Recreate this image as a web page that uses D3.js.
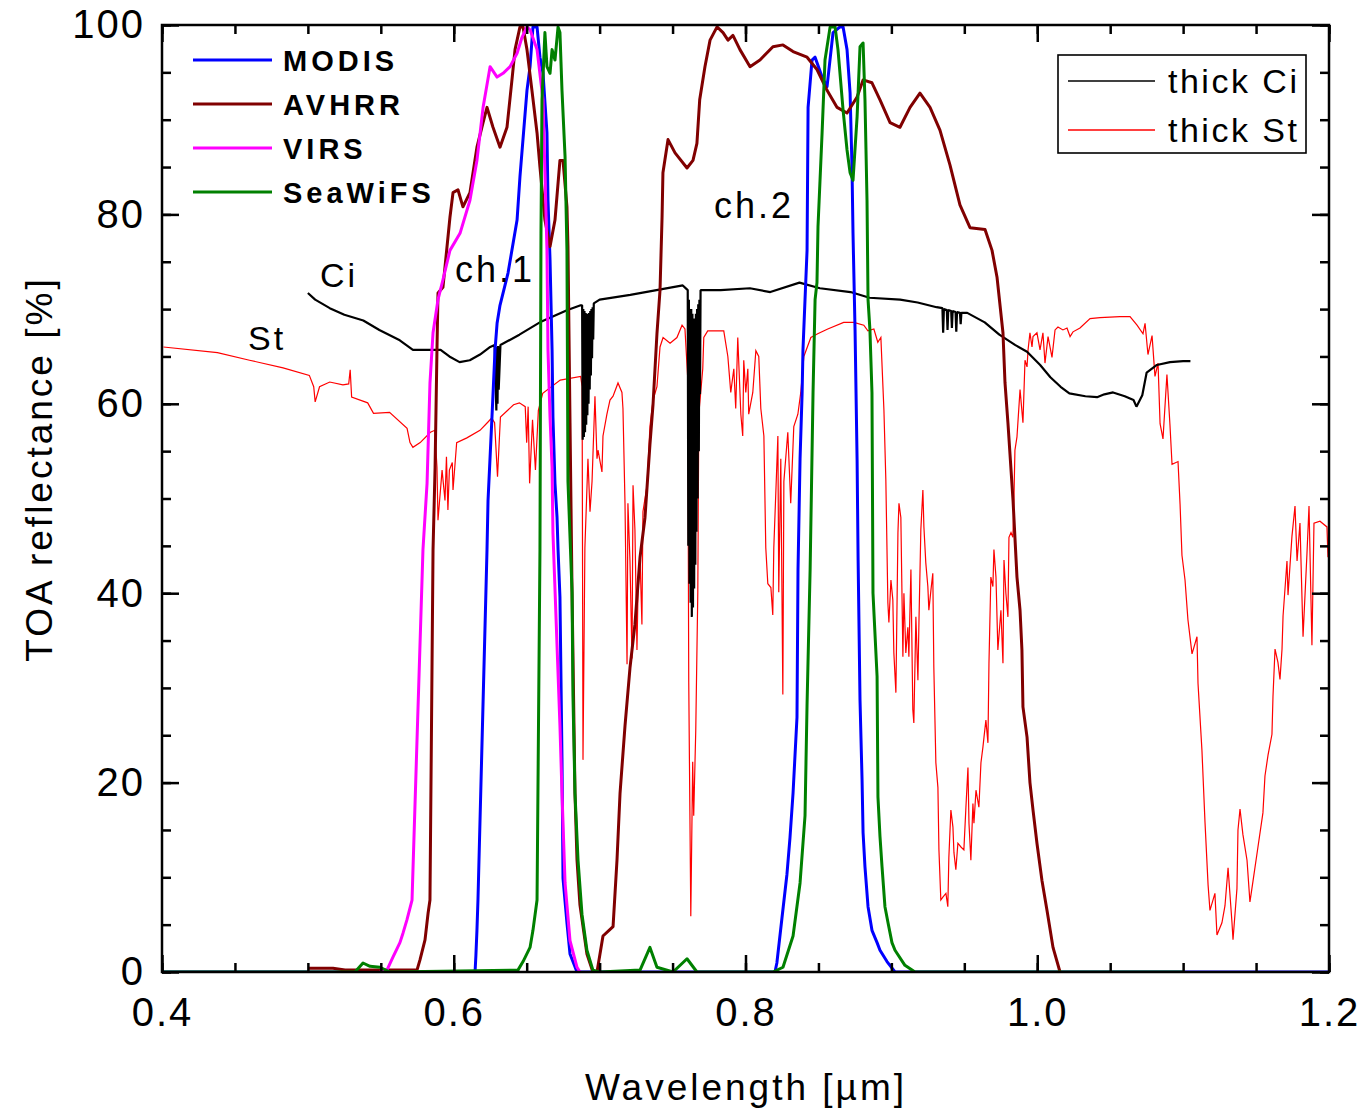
<!DOCTYPE html>
<html><head><meta charset="utf-8">
<script src="https://cdn.jsdelivr.net/npm/d3@7"></script>
<style>
html,body{margin:0;padding:0;background:#fff;}
svg{display:block;font-family:"Liberation Sans",Arial,sans-serif;}
</style></head>
<body>
<svg id="chart" width="1359" height="1112"></svg>
<script>
// ---- tick labels ----
const xTickLabels = ["0.4","0.6","0.8","1.0","1.2"];
const yTickLabels = ["0","20","40","60","80","100"];

// ---- thick Ci (black), [wavelength µm, reflectance %] ----
const thickCi = [[0.500,71.7],[0.505,71.0],[0.515,70.1],[0.525,69.4],[0.538,68.8],[0.549,67.8],[0.563,66.7],[0.572,65.7],[0.582,65.7],[0.591,65.7],[0.597,65.0],[0.604,64.4],[0.611,64.6],[0.618,65.2],[0.625,66.0],[0.628,66.2],[0.6292,59.3],[0.6296,66.0],[0.6300,60.0],[0.6304,66.1],[0.6308,61.5],[0.632,66.2],[0.645,67.3],[0.659,68.6],[0.678,69.9],[0.687,70.4],
[0.6880,70.4],[0.6884,56.2],[0.6888,70.0],[0.6892,56.5],[0.6896,69.8],[0.6900,57.0],[0.6904,69.6],[0.6908,57.8],[0.6912,69.5],[0.6916,58.8],[0.6920,69.5],[0.6924,60.0],[0.6928,69.6],[0.6932,61.5],[0.6936,69.8],[0.6940,63.0],[0.6944,70.0],[0.6948,64.8],[0.6952,70.2],[0.6956,66.8],[0.6960,70.6],
[0.700,71.0],[0.721,71.5],[0.739,72.0],[0.757,72.5],
[0.7604,72.0],[0.7608,45.0],[0.7612,71.0],[0.7616,41.0],[0.7620,70.0],[0.7624,39.0],[0.7628,70.0],[0.7632,37.5],[0.7636,69.5],[0.7640,38.5],[0.7644,69.0],[0.7648,40.5],[0.7652,69.0],[0.7656,43.0],[0.7660,69.5],[0.7664,46.5],[0.7668,70.0],[0.7672,50.0],[0.7676,70.5],[0.7680,55.0],[0.7684,71.0],[0.7688,61.0],[0.7692,72.0],
[0.783,72.0],[0.803,72.2],[0.817,71.8],[0.837,72.8],[0.851,72.2],[0.872,71.8],[0.885,71.2],[0.906,71.0],[0.918,70.7],[0.931,70.2],[0.935,70.1],[0.9355,67.5],[0.936,70.0],[0.938,69.9],[0.9385,67.8],[0.939,69.9],[0.941,69.8],[0.9415,68.0],[0.942,69.8],[0.944,69.7],[0.9445,67.6],[0.945,69.7],[0.947,69.6],[0.9475,68.4],[0.948,69.6],[0.952,69.6],[0.964,68.6],[0.974,67.3],[0.985,66.2],[0.993,65.5],[1.002,64.1],[1.009,62.8],[1.016,61.8],[1.022,61.1],[1.033,60.8],[1.041,60.7],[1.046,61.0],[1.052,61.2],[1.060,60.8],[1.066,60.4],[1.068,59.7],[1.072,60.9],[1.075,63.3],[1.082,64.1],[1.091,64.4],[1.100,64.5],[1.105,64.5]];

// ---- thick St (red) ----
const thickSt = [[0.401,66.0],[0.438,65.4],[0.460,64.6],[0.483,63.8],[0.501,63.0],[0.504,61.8],[0.505,60.2],[0.508,61.8],[0.515,62.3],[0.524,62.0],[0.528,62.1],[0.529,63.6],[0.530,60.7],[0.541,60.1],[0.545,59.0],[0.556,59.1],[0.568,57.4],[0.570,55.9],[0.572,55.4],[0.577,55.9],[0.584,57.0],[0.587,57.2],[0.5885,53.3],[0.5892,47.7],[0.592,53.0],[0.594,49.8],[0.595,54.4],[0.596,48.8],[0.597,53.0],[0.599,53.8],[0.5995,50.9],[0.602,55.9],[0.609,56.4],[0.618,57.2],[0.623,58.0],[0.626,58.5],[0.628,58.0],[0.630,52.3],[0.632,58.6],[0.641,59.9],[0.645,60.1],[0.649,59.7],[0.650,55.9],[0.651,59.7],[0.652,51.6],[0.654,58.3],[0.656,53.0],[0.658,59.3],[0.661,61.1],[0.673,62.5],[0.687,62.9],[0.688,61.8],[0.6886,22.4],[0.6899,44.8],[0.6920,54.2],[0.6934,48.6],[0.6948,51.8],[0.6968,60.8],[0.6982,54.2],[0.6989,55.1],[0.7016,52.8],[0.7023,56.6],[0.7050,58.9],[0.7071,60.4],[0.7092,60.8],[0.7126,62.2],[0.7153,61.2],[0.7160,59.5],[0.7174,49.5],[0.7188,32.5],[0.7194,49.5],[0.7208,43.4],[0.7222,33.1],[0.7229,51.4],[0.7242,46.7],[0.7256,34.0],[0.7263,40.1],[0.7277,43.8],[0.7290,36.7],[0.7297,48.6],[0.7325,51.4],[0.7345,57.6],[0.7366,60.4],[0.7393,61.8],[0.7414,66.0],[0.7435,67.0],[0.7483,66.4],[0.7530,67.0],[0.7565,68.3],[0.7585,67.9],[0.7604,62.7],[0.7611,30.6],[0.7625,5.9],[0.7638,22.2],[0.7645,16.5],[0.7659,25.5],[0.7673,40.1],[0.7680,58.9],[0.7707,63.7],[0.7714,67.0],[0.7741,67.7],[0.7851,67.7],[0.7879,65.0],[0.7899,61.2],[0.7920,63.7],[0.7933,59.5],[0.7947,67.0],[0.7968,58.9],[0.7981,56.6],[0.7988,64.6],[0.8002,61.2],[0.8016,63.7],[0.8022,58.9],[0.8050,61.2],[0.8071,65.6],[0.8091,65.0],[0.8105,59.5],[0.8126,56.6],[0.8139,44.8],[0.8153,41.0],[0.8174,40.6],[0.8187,37.7],[0.8194,44.8],[0.8222,56.6],[0.8228,40.1],[0.8242,54.2],[0.8256,29.3],[0.8263,51.8],[0.8290,57.0],[0.8310,49.5],[0.8331,57.6],[0.8359,58.9],[0.8379,61.2],[0.8400,65.0],[0.8448,67.0],[0.8495,67.4],[0.8564,67.9],[0.8673,68.6],[0.8742,68.6],[0.8811,68.3],[0.8839,67.7],[0.8880,67.9],[0.8907,66.5],[0.8928,67.0],[0.8949,59.3],[0.8962,52.0],[0.8976,39.0],[0.8983,36.9],[0.8997,41.4],[0.9010,39.3],[0.9017,33.7],[0.9031,29.5],[0.9045,46.4],[0.9052,49.5],[0.9065,48.0],[0.9079,33.3],[0.9086,40.0],[0.9099,33.7],[0.9113,36.4],[0.9120,33.3],[0.9134,42.5],[0.9147,27.7],[0.9154,26.3],[0.9168,37.5],[0.9182,30.8],[0.9189,36.9],[0.9202,46.7],[0.9216,50.9],[0.9223,47.0],[0.9236,43.2],[0.9250,40.7],[0.9257,38.2],[0.9271,40.3],[0.9284,42.1],[0.9291,32.2],[0.9305,22.1],[0.9319,19.5],[0.9326,12.9],[0.9339,7.6],[0.9353,7.9],[0.9374,8.3],[0.9387,6.9],[0.9394,12.1],[0.9408,17.1],[0.9422,15.3],[0.9429,12.6],[0.9442,10.8],[0.9456,13.6],[0.9477,13.2],[0.9497,12.9],[0.9511,17.4],[0.9525,21.6],[0.9532,15.7],[0.9545,11.8],[0.9559,17.8],[0.9566,15.7],[0.9580,19.2],[0.9600,17.4],[0.9614,22.1],[0.9628,23.8],[0.9635,24.8],[0.9648,26.6],[0.9662,24.2],[0.9669,32.6],[0.9682,41.7],[0.9696,40.7],[0.9703,44.6],[0.9717,41.7],[0.9730,34.0],[0.9737,35.4],[0.9751,38.2],[0.9765,32.6],[0.9772,43.5],[0.9785,40.0],[0.9799,37.5],[0.9806,45.9],[0.9820,46.4],[0.9833,45.9],[0.9840,49.8],[0.9847,55.1],[0.9861,56.5],[0.9882,61.5],[0.9902,58.0],[0.9916,64.6],[0.9930,63.9],[0.9937,65.7],[0.9950,67.5],[0.9964,66.0],[0.9971,67.1],[0.9998,67.5],[1.0019,65.7],[1.0039,67.5],[1.0053,64.3],[1.0074,67.1],[1.0101,64.9],[1.0122,67.8],[1.0142,68.1],[1.0176,67.8],[1.0204,68.0],[1.0225,67.1],[1.0245,67.6],[1.0293,68.0],[1.0362,69.0],[1.0430,69.1],[1.0567,69.2],[1.0636,69.2],[1.0684,68.3],[1.0725,67.4],[1.0739,68.5],[1.0759,65.2],[1.0787,67.2],[1.0807,62.9],[1.0828,64.3],[1.0842,57.9],[1.0862,56.3],[1.0889,63.1],[1.0910,57.7],[1.0924,53.6],[1.0965,53.9],[1.0979,49.4],[1.0992,44.0],[1.1013,41.4],[1.1033,37.2],[1.1061,33.6],[1.1095,35.4],[1.1102,30.5],[1.1129,23.4],[1.1150,15.8],[1.1171,9.2],[1.1184,6.5],[1.1218,8.3],[1.1232,3.9],[1.1266,5.2],[1.1287,7.0],[1.1308,11.0],[1.1335,5.2],[1.1342,3.4],[1.1369,8.8],[1.1376,15.0],[1.1390,17.2],[1.1410,14.5],[1.1438,11.8],[1.1458,7.4],[1.1479,9.6],[1.1513,13.2],[1.1547,16.8],[1.1561,20.7],[1.1582,22.9],[1.1609,25.1],[1.1616,29.1],[1.1630,34.1],[1.1650,32.7],[1.1664,30.9],[1.1678,34.1],[1.1685,37.6],[1.1712,43.4],[1.1719,39.8],[1.1746,46.0],[1.1767,49.2],[1.1781,43.4],[1.1801,47.4],[1.1822,35.4],[1.1849,44.2],[1.1863,49.2],[1.1883,34.5],[1.1897,47.4],[1.1938,47.6],[1.1986,47.0],[1.1993,43.8]];

// ---- MODIS (blue) ----
const modis = [[0.400,0],[0.6146,0],[0.6152,1.8],[0.6159,4.4],[0.6166,7.6],[0.6228,44.6],[0.6235,49.8],[0.6262,58.6],[0.6283,65.7],[0.6297,68.5],[0.6317,70.4],[0.6372,73.8],[0.6434,79.4],[0.6454,84.0],[0.6502,93.1],[0.6523,95.6],[0.6543,99.8],[0.6571,99.8],[0.6591,96.6],[0.6612,94.9],[0.6639,88.6],[0.6646,81.5],[0.6660,75.2],[0.6674,65.7],[0.6680,58.6],[0.6694,51.6],[0.6708,48.0],[0.6715,44.6],[0.6728,39.6],[0.6742,22.6],[0.6749,9.9],[0.6776,5.2],[0.6797,1.9],[0.6845,0],
[0.8202,0],[0.8215,0.95],[0.8250,5.7],[0.8284,10.3],[0.8305,14.2],[0.8326,18.9],[0.8353,26.9],[0.8360,42.5],[0.8374,54.2],[0.8388,61.1],[0.8394,65.7],[0.8408,71.0],[0.8422,76.2],[0.8429,91.3],[0.8456,96.3],[0.8477,96.6],[0.8525,94.5],[0.8559,93.5],[0.8600,99.2],[0.8648,99.8],[0.8669,99.8],[0.8696,97.4],[0.8717,92.8],[0.8730,85.0],[0.8737,78.0],[0.8751,67.8],[0.8765,54.1],[0.8772,43.5],[0.8785,28.7],[0.8799,20.3],[0.8806,14.7],[0.8819,11.1],[0.8840,6.9],[0.8867,4.4],[0.8902,3.1],[0.8922,2.3],[0.8970,1.1],[0.9025,0],[1.200,0]];

// ---- AVHRR (dark red) ----
const avhrr = [[0.5001,0.4],[0.5172,0.4],[0.5255,0.2],[0.5494,0.2],[0.5748,0.2],[0.5769,1.3],[0.5803,3.4],[0.5824,6.2],[0.5837,7.6],[0.5858,44.6],[0.5872,53.3],[0.5885,65.7],[0.5892,71.7],[0.5926,72.3],[0.5974,79.7],[0.5995,82.3],[0.6029,82.6],[0.6063,80.8],[0.6111,82.3],[0.6159,87.1],[0.6201,89.7],[0.6228,91.3],[0.6269,89.2],[0.6317,87.1],[0.6365,89.2],[0.6399,94.2],[0.6420,97.4],[0.6454,99.8],[0.6475,99.8],[0.6502,97.4],[0.6536,93.1],[0.6571,88.6],[0.6591,85.0],[0.6625,79.4],[0.6660,76.6],[0.6694,79.4],[0.6728,85.7],[0.6749,85.7],[0.6776,80.8],[0.6783,76.6],[0.6797,58.0],[0.6811,40.0],[0.6831,18.9],[0.6845,11.8],[0.6865,7.1],[0.6913,1.9],[0.6954,0],[0.6982,0],[0.7023,3.8],[0.7092,4.8],[0.7119,11.8],[0.7140,18.9],[0.7174,26.0],[0.7208,32.1],[0.7242,36.7],[0.7277,43.8],[0.7311,48.0],[0.7345,55.7],[0.7366,59.9],[0.7393,67.4],[0.7414,72.0],[0.7428,79.7],[0.7434,84.4],[0.7469,87.9],[0.7517,86.5],[0.7599,84.9],[0.7640,85.7],[0.7667,87.5],[0.7686,92.1],[0.7722,95.6],[0.7757,98.4],[0.7805,99.8],[0.7846,99.2],[0.7880,98.4],[0.7914,98.9],[0.7962,97.4],[0.8031,95.6],[0.8099,96.3],[0.8188,97.7],[0.8257,97.9],[0.8326,97.2],[0.8422,96.6],[0.8490,95.3],[0.8559,93.1],[0.8628,91.3],[0.8696,90.7],[0.8765,92.4],[0.8806,94.2],[0.8867,93.9],[0.8922,92.1],[0.8991,89.7],[0.9059,89.2],[0.9128,91.3],[0.9196,92.8],[0.9265,91.3],[0.9333,88.9],[0.9402,85.2],[0.9470,81.0],[0.9539,78.6],[0.9642,78.4],[0.9690,76.2],[0.9724,73.4],[0.9765,67.5],[0.9779,62.2],[0.9799,58.0],[0.9834,49.8],[0.9861,41.7],[0.9882,38.2],[0.9895,34.0],[0.9902,28.0],[0.9930,24.8],[0.9950,20.0],[0.9971,17.1],[0.9998,13.6],[1.0032,9.7],[1.0067,6.5],[1.0108,2.6],[1.0156,0]];

// ---- VIRS (magenta) ----
const virs = [[0.5494,0],[0.5542,0.2],[0.5584,1.6],[0.5631,3.1],[0.5652,4.1],[0.5679,5.5],[0.5714,7.6],[0.5789,44.6],[0.5817,51.6],[0.5837,62.2],[0.5858,67.5],[0.5892,71.0],[0.5926,73.1],[0.5974,76.2],[0.6043,78.0],[0.6111,81.5],[0.6159,85.7],[0.6201,91.3],[0.6249,95.6],[0.6297,94.5],[0.6338,94.9],[0.6386,95.6],[0.6434,97.0],[0.6468,98.7],[0.6502,99.8],[0.6523,99.5],[0.6571,97.4],[0.6612,92.1],[0.6639,76.2],[0.6646,65.7],[0.6660,58.6],[0.6674,53.3],[0.6680,46.4],[0.6728,26.0],[0.6742,18.9],[0.6763,9.4],[0.6797,3.3],[0.6845,0.5],[0.6865,0]];

// ---- SeaWiFS (green) ----
const seawifs = [[0.400,0],[0.5323,0],[0.5378,0.95],[0.5426,0.6],[0.5494,0.5],[0.5563,0],[0.6440,0.2],[0.6475,1.1],[0.6523,2.6],[0.6543,4.4],[0.6571,7.6],[0.6591,44.6],[0.6598,78.0],[0.6605,92.1],[0.6625,99.2],[0.6639,95.6],[0.6660,94.9],[0.6674,97.4],[0.6694,96.3],[0.6715,99.8],[0.6728,99.2],[0.6742,93.1],[0.6763,86.1],[0.6776,76.2],[0.6783,51.8],[0.6811,40.1],[0.6817,29.3],[0.6831,18.9],[0.6852,11.8],[0.6879,6.1],[0.6913,2.3],[0.6954,0.2],[0.7003,0],[0.7277,0.2],[0.7345,2.6],[0.7393,0.5],[0.7503,0],[0.7599,1.4],[0.7667,0],
[0.8188,0],[0.8257,0.5],[0.8326,3.8],[0.8374,9.4],[0.8408,16.5],[0.8422,28.3],[0.8443,42.5],[0.8463,61.2],[0.8477,71.0],[0.8490,72.8],[0.8497,78.7],[0.8525,88.6],[0.8545,96.3],[0.8580,99.8],[0.8614,99.8],[0.8634,97.4],[0.8669,91.0],[0.8696,86.8],[0.8717,84.4],[0.8737,83.6],[0.8765,90.3],[0.8785,97.7],[0.8806,98.1],[0.8819,92.1],[0.8833,81.5],[0.8840,71.0],[0.8853,67.8],[0.8867,61.2],[0.8874,40.0],[0.8902,31.2],[0.8908,18.5],[0.8922,14.3],[0.8936,11.1],[0.8956,6.9],[0.8977,5.2],[0.9004,3.1],[0.9025,2.3],[0.9093,0.7],[0.9162,0],[1.100,0]];

// ---- legend entries ----
const bandNames = ["MODIS","AVHRR","VIRS","SeaWiFS"];
const bandColors = ["#0000ff","#800000","#ff00ff","#008000"];
const cloudNames = ["thick Ci","thick St"];
const cloudColors = ["#000000","#ff0000"];

const svg = d3.select("#chart");
const X0 = 162, X1 = 1329, Y0 = 972, Y1 = 25;
const x = d3.scaleLinear().domain([0.4,1.2]).range([X0,X1]);
const y = d3.scaleLinear().domain([0,100]).range([Y0,Y1]);
const FONT = '"Liberation Sans", Arial, sans-serif';

svg.append("defs").append("clipPath").attr("id","clip")
  .append("rect").attr("x",X0).attr("y",Y1).attr("width",X1-X0).attr("height",Y0-Y1);

const line = d3.line().x(d=>x(d[0])).y(d=>y(d[1]));
const plot = svg.append("g").attr("clip-path","url(#clip)");

plot.append("path").datum(thickSt).attr("d",line).attr("fill","none").attr("stroke","#ff0000").attr("stroke-width",1.2).attr("stroke-linejoin","miter");
plot.append("path").datum(thickCi).attr("d",line).attr("fill","none").attr("stroke","#000").attr("stroke-width",2.2).attr("stroke-linejoin","bevel");
const bands = [modis, avhrr, virs, seawifs];
bands.forEach((b,i)=>{
  plot.append("path").datum(b).attr("d",line).attr("fill","none")
    .attr("stroke",bandColors[i]).attr("stroke-width",3).attr("stroke-linejoin","round");
});

// ---- axes ----
const xMajor = xTickLabels.map(Number);
const xMinor = d3.range(0.4,1.2001,0.05);
const yMajor = yTickLabels.map(Number);
const yMinor = d3.range(0,100.001,5);

function styleAxis(g){
  g.select(".domain").remove();
  g.selectAll(".tick line").attr("stroke","#000").attr("stroke-width",2.5);
}
svg.append("g").attr("transform",`translate(0,${Y0})`).call(d3.axisBottom(x).tickValues(xMinor).tickSize(-9).tickFormat("")).call(styleAxis);
svg.append("g").attr("transform",`translate(0,${Y1})`).call(d3.axisTop(x).tickValues(xMinor).tickSize(-9).tickFormat("")).call(styleAxis);
svg.append("g").attr("transform",`translate(${X0},0)`).call(d3.axisLeft(y).tickValues(yMinor).tickSize(-9).tickFormat("")).call(styleAxis);
svg.append("g").attr("transform",`translate(${X1},0)`).call(d3.axisRight(y).tickValues(yMinor).tickSize(-9).tickFormat("")).call(styleAxis);
const xb = svg.append("g").attr("transform",`translate(0,${Y0})`)
  .call(d3.axisBottom(x).tickValues(xMajor).tickSize(-17).tickPadding(26).tickFormat((d,i)=>xTickLabels[i])).call(styleAxis);
svg.append("g").attr("transform",`translate(0,${Y1})`).call(d3.axisTop(x).tickValues(xMajor).tickSize(-17).tickFormat("")).call(styleAxis);
const yl = svg.append("g").attr("transform",`translate(${X0},0)`)
  .call(d3.axisLeft(y).tickValues(yMajor).tickSize(-17).tickPadding(17).tickFormat((d,i)=>yTickLabels[i])).call(styleAxis);
svg.append("g").attr("transform",`translate(${X1},0)`).call(d3.axisRight(y).tickValues(yMajor).tickSize(-17).tickFormat("")).call(styleAxis);
[xb,yl].forEach(g=>g.selectAll(".tick text").attr("font-family",FONT).attr("font-size",40).attr("fill","#000").style("letter-spacing","2px"));

svg.append("rect").attr("x",X0).attr("y",Y1).attr("width",X1-X0).attr("height",Y0-Y1)
  .attr("fill","none").attr("stroke","#000").attr("stroke-width",2.5);

svg.append("text").attr("x",746).attr("y",1100).attr("text-anchor","middle")
  .attr("font-family",FONT).attr("font-size",37).style("letter-spacing","3px").text("Wavelength [µm]");
svg.append("text").attr("transform","translate(52,469) rotate(-90)").attr("text-anchor","middle")
  .attr("font-family",FONT).attr("font-size",37).style("letter-spacing","3px").text("TOA reflectance [%]");

const ann = [["Ci",320,287,34],["St",248,350,34],["ch.1",455,282,36],["ch.2",714,218,36]];
ann.forEach(a=>svg.append("text").attr("x",a[1]).attr("y",a[2]).attr("font-family",FONT)
  .attr("font-size",a[3]).style("letter-spacing","3px").text(a[0]));

bandNames.forEach((n,i)=>{
  const ly = 60 + i*44;
  svg.append("line").attr("x1",193).attr("x2",272).attr("y1",ly).attr("y2",ly)
    .attr("stroke",bandColors[i]).attr("stroke-width",3);
  svg.append("text").attr("x",283).attr("y",ly+11).attr("font-family",FONT).attr("font-size",29)
    .attr("font-weight","bold").style("letter-spacing","4px").text(n);
});

svg.append("rect").attr("x",1058).attr("y",55).attr("width",248).attr("height",98)
  .attr("fill","#fff").attr("stroke","#000").attr("stroke-width",1.6);
cloudNames.forEach((n,i)=>{
  const ly = 81 + i*49;
  svg.append("line").attr("x1",1068).attr("x2",1155).attr("y1",ly).attr("y2",ly)
    .attr("stroke",cloudColors[i]).attr("stroke-width",1.5);
  svg.append("text").attr("x",1168).attr("y",ly+12).attr("font-family",FONT).attr("font-size",34)
    .style("letter-spacing","2.5px").text(n);
});
</script>
</body></html>
